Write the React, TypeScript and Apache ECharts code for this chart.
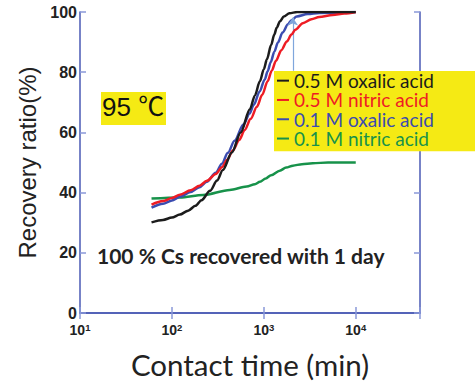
import React, { useEffect, useRef } from "react";
import * as echarts from "echarts";

// contact time (min), recovery ratio (%)
const oxalic05: [number, number][] = [
  [60, 30.1], [80, 30.9], [100, 31.7], [122, 32.7], [150, 34], [180, 35.6], [210, 37.5],
  [260, 40.6], [310, 44], [358, 47.5], [449, 53.3], [560, 60], [705, 67.7], [800, 72.3],
  [906, 77], [1000, 81], [1080, 84.3], [1200, 89], [1300, 92.5], [1380, 94.8], [1500, 96.9],
  [1650, 98.5], [1900, 99.6], [2300, 100], [10000, 100],
];
const nitric05: [number, number][] = [
  [60, 36], [80, 37.2], [100, 38.2], [122, 39.3], [160, 40.8], [200, 42.3], [240, 43.9],
  [300, 46.2], [350, 48.4], [400, 50.9], [460, 54], [540, 57.5], [620, 60.8], [720, 64.5],
  [840, 68.5], [960, 72.5], [1100, 77], [1220, 80.5], [1350, 83.7], [1550, 87.3], [1780, 90.2],
  [2000, 92.5], [2200, 94.1], [2650, 96.3], [3300, 97.6], [4000, 98.3], [5600, 99],
  [7500, 99.5], [10000, 100],
];
const oxalic01: [number, number][] = [
  [60, 35], [80, 36.3], [100, 37.4], [122, 38.6], [160, 40.2], [200, 41.8], [240, 43.6],
  [300, 46.6], [350, 49.6], [406, 53.2], [480, 57.2], [600, 62.6], [700, 66.3], [778, 69.2],
  [900, 73.6], [1023, 77.6], [1100, 80.3], [1190, 83.4], [1300, 86.8], [1420, 89.8], [1600, 93.2],
  [1830, 95.9], [2000, 97.3], [2280, 98.5], [3000, 99.3], [4000, 99.7], [10000, 100],
];
const nitric01: [number, number][] = [
  [60, 38], [122, 38.4], [218, 39.2], [426, 40.9], [650, 42], [800, 42.8], [907, 43.6],
  [1050, 44.7], [1200, 45.8], [1490, 47.3], [1750, 48.3], [2070, 48.95], [2600, 49.45],
  [3400, 49.75], [5000, 50], [10000, 50],
];
const seriesNames = ["0.5 M oxalic acid", "0.5 M nitric acid", "0.1 M oxalic acid", "0.1 M nitric acid"];
const seriesColors = ["#1c1c1c", "#ee1c24", "#3b4cb0", "#17924a"];
const yTicks = [0, 20, 40, 60, 80, 100];
const arrowTime = 2065;
const arrowRange = [80.5, 98.2];

const frame = "#4a5ab4";
const tick = "#8a98d8";
const ui = "Lato, 'Open Sans', sans-serif";
const arial = "'Liberation Sans', Arial, sans-serif";

export default function App() {
  const ref = useRef<HTMLDivElement>(null);
  useEffect(() => {
    if (!ref.current) return;
    const chart = echarts.init(ref.current, undefined, { renderer: "svg" });
    const data = [oxalic05, nitric05, oxalic01, nitric01];
    const xBase = {
      type: "log" as const,
      min: 10,
      max: 50000,
      logBase: 10,
      splitLine: { show: false },
      axisLine: { show: true, lineStyle: { color: frame, width: 1.5 } },
      axisTick: { show: true, inside: true, length: 6, lineStyle: { color: tick, width: 1.5 } },
    };
    const yBase = {
      type: "value" as const,
      min: yTicks[0],
      max: yTicks[yTicks.length - 1],
      interval: 20,
      splitLine: { show: false },
      axisLine: { show: true, lineStyle: { color: frame, width: 1.5 } },
      axisTick: { show: true, inside: true, length: 6, lineStyle: { color: tick, width: 1.5 } },
    };
    chart.setOption({
      animation: false,
      backgroundColor: "#ffffff",
      grid: { left: 80, top: 12, width: 340, height: 301 },
      legend: {
        orient: "vertical",
        left: 274,
        top: 71,
        selectedMode: false,
        backgroundColor: "#f5ea14",
        padding: [0, 52, 3, 3],
        itemGap: 0,
        icon: "rect",
        itemWidth: 12,
        itemHeight: 2,
        z: 10,
        textStyle: { fontFamily: ui, fontSize: 19, lineHeight: 19.3 },
        data: seriesNames.map((n, i) => ({ name: n, textStyle: { color: seriesColors[i] } })),
      },
      xAxis: [
        {
          ...xBase,
          position: "bottom",
          name: "Contact time (min)",
          nameLocation: "middle",
          nameGap: 36,
          nameTextStyle: { fontFamily: ui, fontSize: 29.5, color: "#222" },
          axisLabel: {
            margin: 9,
            formatter: (v: number) => {
              const e = Math.round(Math.log10(v));
              if (Math.abs(Math.log10(v) - e) > 1e-6) return "";
              return `{b|10}{s|${e}}`;
            },
            rich: {
              b: { fontFamily: arial, fontWeight: "bold", fontSize: 14, color: "#222", lineHeight: 16 },
              s: { fontFamily: arial, fontWeight: "bold", fontSize: 9.5, color: "#222", lineHeight: 10, verticalAlign: "top" },
            },
          },
        },
        { ...xBase, position: "top", axisLabel: { show: false } },
      ],
      yAxis: [
        {
          ...yBase,
          position: "left",
          name: "Recovery ratio(%)",
          nameLocation: "middle",
          nameGap: 40,
          nameTextStyle: { fontFamily: arial, fontSize: 24, color: "#222" },
          axisLabel: {
            margin: 3,
            fontFamily: arial,
            fontWeight: "bold",
            fontSize: 16,
            color: "#222",
          },
        },
        { ...yBase, position: "right", axisLabel: { show: false } },
      ],
      series: data.map((d, i) => ({
        name: seriesNames[i],
        type: "line",
        data: d,
        smooth: 0.3,
        smoothMonotone: "x",
        showSymbol: false,
        symbol: "none",
        color: seriesColors[i],
        lineStyle: { width: 2.5, color: seriesColors[i] },
        z: 3 + (3 - i),
        ...(i === 2
          ? {
              markLine: {
                silent: true,
                symbol: ["none", "arrow"],
                symbolSize: 8,
                label: { show: false },
                lineStyle: { color: "#7fa6dc", width: 1.2, type: "solid" },
                data: [[{ coord: [arrowTime, arrowRange[0]] }, { coord: [arrowTime, arrowRange[1]] }]],
              },
            }
          : {}),
      })),
      graphic: [
        {
          type: "rect",
          left: 101,
          top: 92,
          shape: { width: 65, height: 33 },
          style: { fill: "#f5ea14" },
          z: 10,
        },
        {
          type: "text",
          left: 102,
          top: 94,
          style: { text: "95 ℃", fontFamily: "'Liberation Sans', 'Noto Sans CJK JP', Arial", fontSize: 26, fill: "#111" },
          z: 11,
        },
        {
          type: "text",
          left: 97,
          top: 245,
          style: {
            text: "100 % Cs recovered with 1 day",
            fontFamily: ui,
            fontWeight: "bold",
            fontSize: 21,
            fill: "#222",
          },
          z: 11,
        },
      ],
    });
    return () => chart.dispose();
  }, []);
  return (
    <div
      ref={ref}
      style={{ position: "fixed", left: 0, top: 0, width: 475, height: 385, background: "#fff" }}
    />
  );
}
